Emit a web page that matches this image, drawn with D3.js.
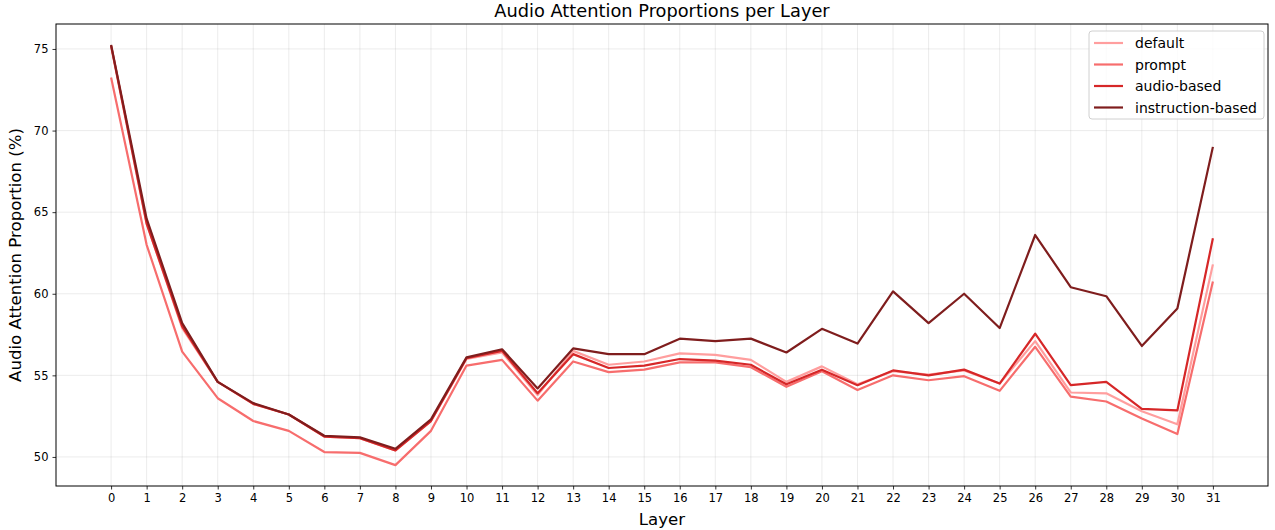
<!DOCTYPE html>
<html>
<head>
  <meta charset="utf-8">
  <script src="https://cdnjs.cloudflare.com/ajax/libs/d3/7.8.5/d3.min.js"></script>
  <title>Audio Attention Proportions per Layer</title>
  <style>
    body { margin: 0; background: #fff; }
    text { font-family: "DejaVu Sans", sans-serif; }
  </style>
</head>
<body>
<script>
var layers = d3.range(0, 32);

var defaultVals = [75.2, 64.3, 57.9, 54.6, 53.25, 52.6, 51.25, 51.15, 50.4, 52.2,
  56.0, 56.4, 53.8, 56.5, 55.65, 55.85, 56.35, 56.25, 55.95, 54.6,
  55.55, 54.45, 55.25, 55.05, 55.3, 54.5, 57.1, 53.95, 53.9, 52.8, 52.0, 61.8];

var promptVals = [73.25, 63.0, 56.45, 53.6, 52.2, 51.6, 50.3, 50.25, 49.5, 51.6,
  55.6, 55.95, 53.45, 55.85, 55.2, 55.35, 55.8, 55.8, 55.5, 54.3,
  55.25, 54.1, 55.0, 54.7, 54.95, 54.05, 56.75, 53.7, 53.4, 52.35, 51.4, 60.75];

var audioVals = [75.2, 64.3, 58.0, 54.6, 53.25, 52.6, 51.25, 51.15, 50.4, 52.2,
  56.05, 56.5, 53.9, 56.3, 55.45, 55.6, 56.0, 55.9, 55.65, 54.45,
  55.35, 54.4, 55.3, 55.0, 55.35, 54.5, 57.55, 54.4, 54.6, 52.95, 52.85, 63.4];

var instructionVals = [75.25, 64.6, 58.2, 54.6, 53.3, 52.6, 51.3, 51.2, 50.5, 52.3,
  56.1, 56.6, 54.2, 56.65, 56.3, 56.3, 57.25, 57.1, 57.25, 56.4,
  57.85, 56.95, 60.15, 58.2, 60.0, 57.9, 63.6, 60.4, 59.85, 56.8, 59.1, 69.0];

var seriesNames = ["default", "prompt", "audio-based", "instruction-based"];
var seriesColors = ["#ff9e9e", "#f76d6d", "#d62728", "#7f1d1d"];
var seriesVals = [defaultVals, promptVals, audioVals, instructionVals];

var yTicks = [50, 55, 60, 65, 70, 75];

var W = 1275, H = 530;
var m = { left: 56, right: 7, top: 24, bottom: 44 };

var svg = d3.select("body").append("svg")
  .attr("width", W).attr("height", H);

var x = d3.scaleLinear().domain([-1.55, 32.55]).range([m.left, W - m.right]);
var y = d3.scaleLinear().domain([48.22, 76.53]).range([H - m.bottom, m.top]);

// grid
var g = svg.append("g");
g.selectAll(".vx").data(layers).enter().append("line")
  .attr("x1", function(d) { return x(d); }).attr("x2", function(d) { return x(d); })
  .attr("y1", m.top).attr("y2", H - m.bottom)
  .attr("stroke", "#b0b0b0").attr("stroke-opacity", 0.3).attr("stroke-width", 0.8);
g.selectAll(".hy").data(yTicks).enter().append("line")
  .attr("y1", function(d) { return y(d); }).attr("y2", function(d) { return y(d); })
  .attr("x1", m.left).attr("x2", W - m.right)
  .attr("stroke", "#b0b0b0").attr("stroke-opacity", 0.3).attr("stroke-width", 0.8);

// lines
var line = d3.line()
  .x(function(d, i) { return x(layers[i]); })
  .y(function(d) { return y(d); });

seriesVals.forEach(function(vals, i) {
  svg.append("path")
    .datum(vals)
    .attr("fill", "none")
    .attr("stroke", seriesColors[i])
    .attr("stroke-width", 2.2)
    .attr("stroke-linejoin", "round")
    .attr("d", line);
});

// axes
var xAxis = svg.append("g")
  .attr("transform", "translate(0," + (H - m.bottom) + ")")
  .call(d3.axisBottom(x).tickValues(layers).tickFormat(d3.format("d")).tickSize(3.5).tickPadding(4));
var yAxis = svg.append("g")
  .attr("transform", "translate(" + m.left + ",0)")
  .call(d3.axisLeft(y).tickValues(yTicks).tickSize(3.5).tickPadding(4));
[xAxis, yAxis].forEach(function(a) {
  a.select(".domain").remove();
  a.selectAll("text").attr("font-size", 11.5).attr("fill", "#000")
    .style("font-family", "DejaVu Sans");
  a.selectAll(".tick line").attr("stroke", "#000").attr("stroke-width", 0.8);
});

// frame
svg.append("rect")
  .attr("x", m.left).attr("y", m.top)
  .attr("width", W - m.left - m.right).attr("height", H - m.top - m.bottom)
  .attr("fill", "none").attr("stroke", "#000").attr("stroke-width", 1);

// labels
svg.append("text").attr("x", (m.left + W - m.right) / 2).attr("y", 17)
  .attr("text-anchor", "middle").attr("font-size", 17.8).text("Audio Attention Proportions per Layer");
svg.append("text").attr("x", (m.left + W - m.right) / 2).attr("y", 525)
  .attr("text-anchor", "middle").attr("font-size", 16.6).text("Layer");
svg.append("text")
  .attr("transform", "translate(21," + ((m.top + H - m.bottom) / 2) + ") rotate(-90)")
  .attr("text-anchor", "middle").attr("font-size", 16.6).text("Audio Attention Proportion (%)");

// legend
var lg = svg.append("g").attr("transform", "translate(1089,31)");
lg.append("rect").attr("width", 175).attr("height", 88).attr("rx", 3)
  .attr("fill", "#fff").attr("fill-opacity", 0.8)
  .attr("stroke", "#d0d0d0").attr("stroke-width", 1);
seriesNames.forEach(function(name, i) {
  var yy = 12 + i * 21.5;
  lg.append("line").attr("x1", 5).attr("x2", 34).attr("y1", yy).attr("y2", yy)
    .attr("stroke", seriesColors[i]).attr("stroke-width", 2.2);
  lg.append("text").attr("x", 46).attr("y", yy + 5).attr("font-size", 14).text(name);
});
</script>
</body>
</html>
